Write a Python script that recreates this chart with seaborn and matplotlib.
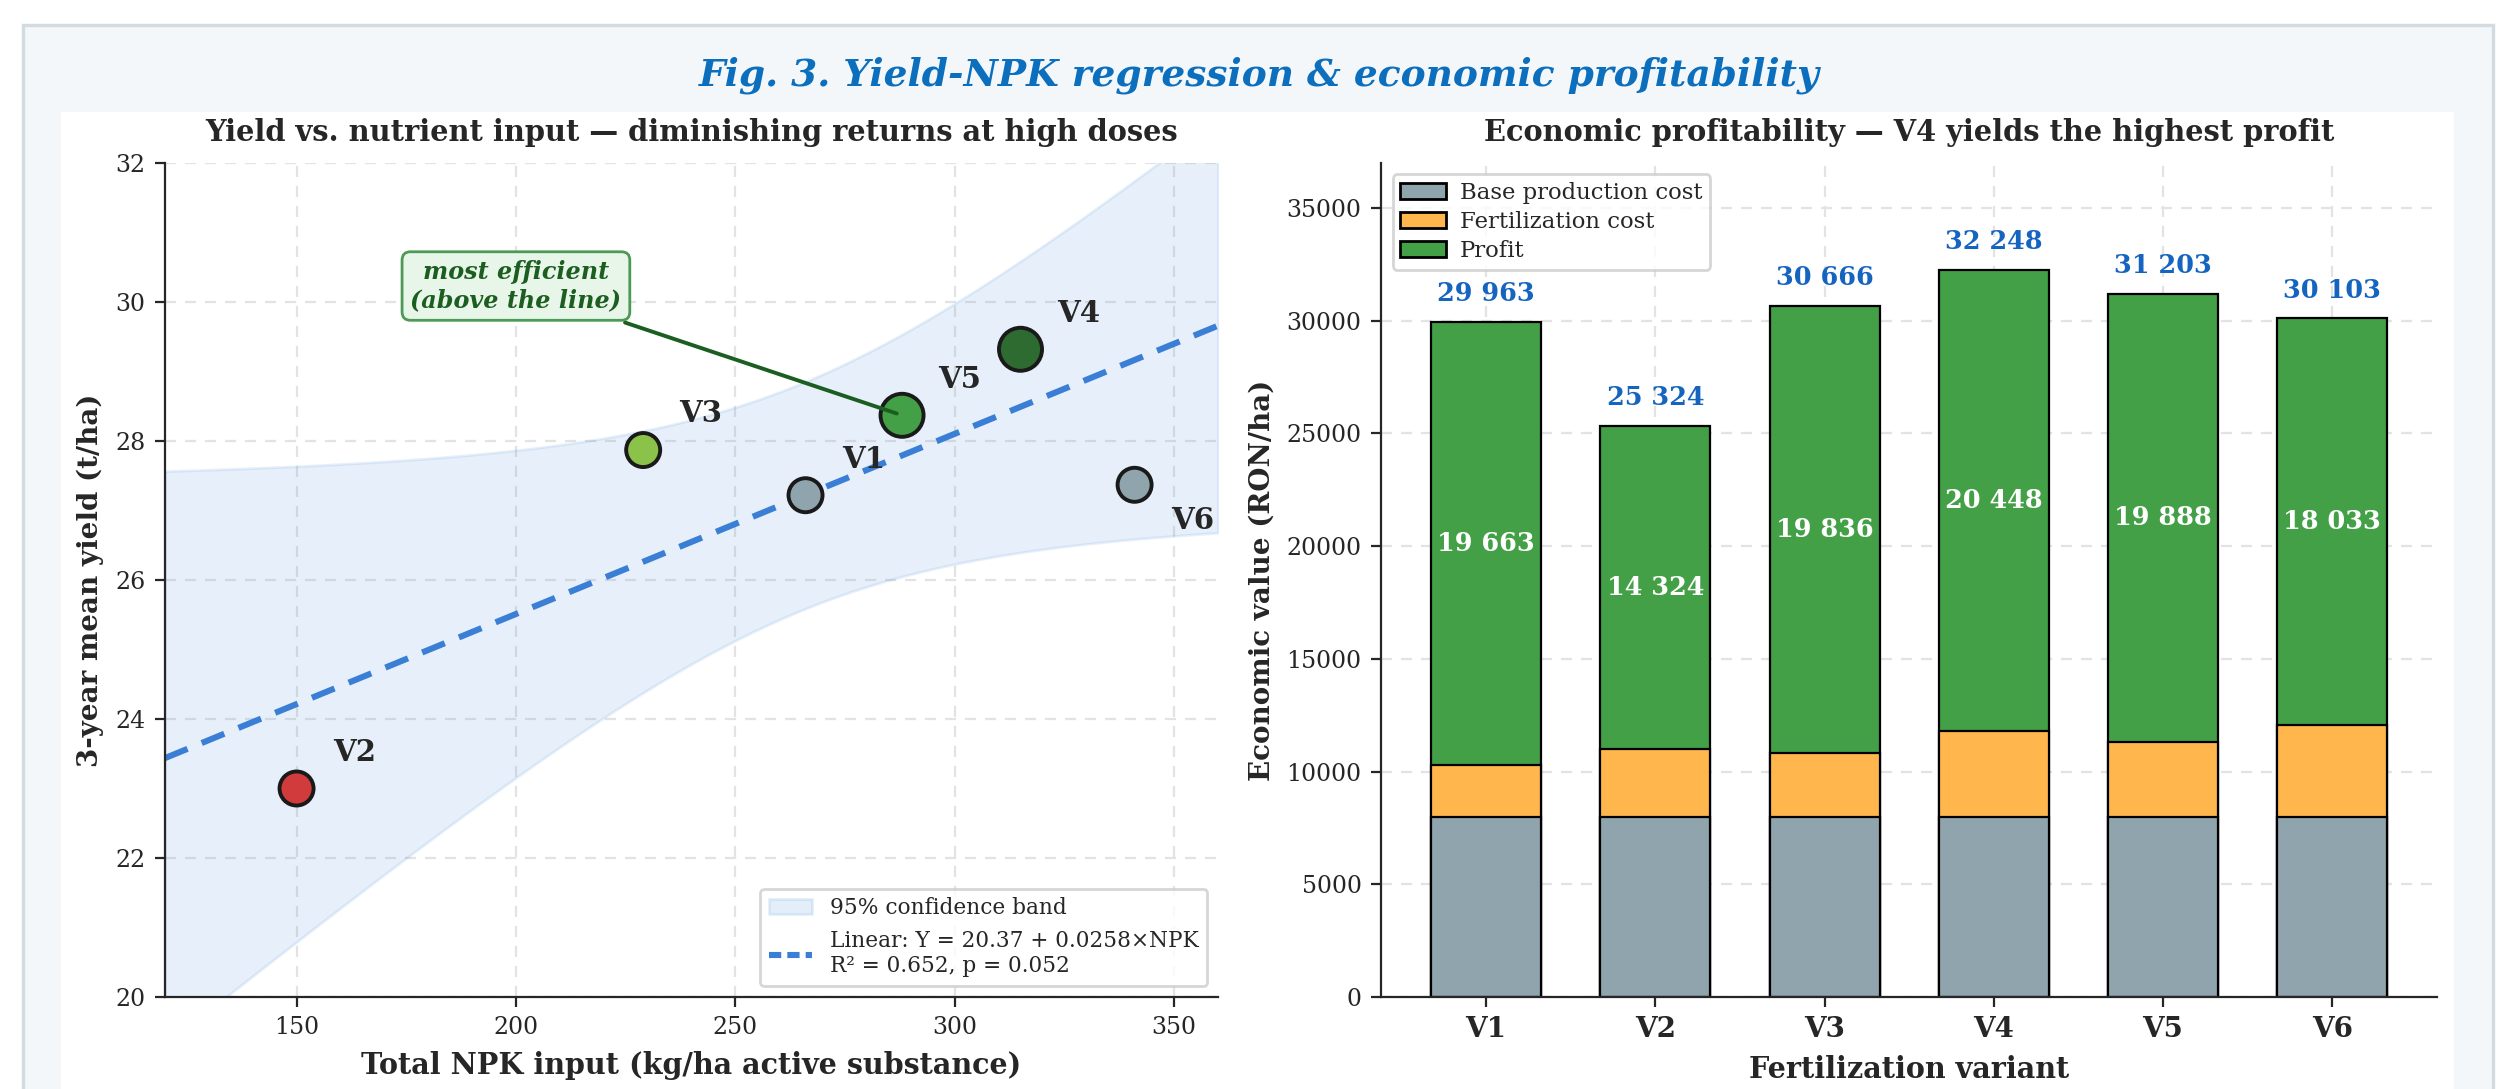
import numpy as np
import matplotlib
matplotlib.use('Agg')
from matplotlib import pyplot as plt
from matplotlib.patches import Patch, Rectangle
from matplotlib.lines import Line2D
import seaborn as sns

sns.set_style('ticks')
plt.rcParams['font.family'] = ['DejaVu Serif']

# --- data ---
variants = ['V1', 'V2', 'V3', 'V4', 'V5', 'V6']
npk = [266, 150, 229, 315, 288, 341]
yield_mean = [27.22, 23.00, 27.87, 29.32, 28.37, 27.37]
point_colors = ['#90a4ae', '#d13b3b', '#8bc34a', '#2e6b30', '#43a047', '#90a4ae']
point_sizes = [150, 150, 150, 240, 240, 150]

base_cost = [8000, 8000, 8000, 8000, 8000, 8000]
fert_cost = [2300, 3000, 2830, 3800, 3315, 4070]
profit = [19663, 14324, 19836, 20448, 19888, 18033]

fit_label = 'Linear: Y = 20.37 + 0.0258×NPK\nR² = 0.652, p = 0.052'

# --- figure / page background ---
fig = plt.figure(figsize=(12.59, 5.445), dpi=200, facecolor='white')
fig.patches.append(Rectangle((0.0091, -0.01), 0.981, 0.987, transform=fig.transFigure,
                             facecolor='#f3f7fa', edgecolor='#d3dbe2', lw=1.2, zorder=-3))
fig.patches.append(Rectangle((0.0242, -0.01), 0.9504, 0.9072, transform=fig.transFigure,
                             facecolor='white', edgecolor='none', zorder=-2))
fig.text(0.5, 0.931, 'Fig. 3. Yield-NPK regression & economic profitability',
         ha='center', va='center', fontsize=13.5, fontweight='bold', style='italic',
         color='#0b6fbd')

ax1 = fig.add_axes([0.0655, 0.0845, 0.4182, 0.7658])
ax2 = fig.add_axes([0.5485, 0.0845, 0.4194, 0.7658])

grid_kw = dict(ls=(0, (5, 4)), color='#e3e3e3', lw=0.8)

# --- left: regression ---
x = np.array(npk, dtype=float)
y = np.array(yield_mean)
slope, intercept = np.polyfit(x, y, 1)
xs = np.linspace(120, 360, 200)
yfit = intercept + slope * xs
resid = y - (intercept + slope * x)
s = np.sqrt((resid ** 2).sum() / (len(x) - 2))
sxx = ((x - x.mean()) ** 2).sum()
half = 2.776 * s * np.sqrt(1 / len(x) + (xs - x.mean()) ** 2 / sxx)

ax1.fill_between(xs, yfit - half, yfit + half, color='#4a90d9', alpha=0.13,
                 edgecolor='#4a90d9', lw=1.0, zorder=1)
ax1.plot(xs, yfit, ls='--', color='#3a7fd5', lw=2.2, dashes=(4, 2.5), zorder=2)

sns.scatterplot(x=npk, y=yield_mean, hue=variants, palette=point_colors,
                size=variants, sizes=dict(zip(variants, point_sizes)),
                edgecolor='#1a1a1a', linewidth=1.4, legend=False, ax=ax1, zorder=4)

for v, xi, yi in zip(variants, npk, yield_mean):
    dy = -13 if v == 'V6' else 13
    ax1.annotate(v, (xi, yi), xytext=(13, dy), textcoords='offset points',
                 ha='left', va='center', fontsize=10.5, fontweight='bold')

ax1.annotate('most efficient\n(above the line)', xy=(288, 28.37), xytext=(200, 30.23),
             ha='center', va='center', fontsize=8.6, fontweight='bold', style='italic',
             color='#1b5e20',
             bbox=dict(boxstyle='round,pad=0.35', fc='#e8f5e9', ec='#4c9a55', lw=1.0),
             arrowprops=dict(arrowstyle='-', color='#1b5e20', lw=1.4), zorder=5)

ax1.set_xlim(120, 360)
ax1.set_ylim(20, 32)
ax1.set_xticks([150, 200, 250, 300, 350])
ax1.set_yticks([20, 22, 24, 26, 28, 30, 32])
ax1.grid(True, **grid_kw)
ax1.set_axisbelow(True)
ax1.set_title('Yield vs. nutrient input — diminishing returns at high doses',
              fontsize=10.4, fontweight='bold', pad=8)
ax1.set_xlabel('Total NPK input (kg/ha active substance)', fontsize=10.3, fontweight='bold')
ax1.set_ylabel('3-year mean yield (t/ha)', fontsize=10, fontweight='bold')
ax1.tick_params(labelsize=8.5)
sns.despine(ax=ax1)
handles = [Patch(facecolor='#4a90d9', alpha=0.15, edgecolor='#4a90d9'),
           Line2D([0], [0], ls='--', color='#3a7fd5', lw=2.2, dashes=(2, 1))]
ax1.legend(handles, ['95% confidence band', fit_label], loc='lower right',
           fontsize=7.8, frameon=True, edgecolor='#cccccc', fancybox=True)

# --- right: stacked bars ---
fert_top = [b + f for b, f in zip(base_cost, fert_cost)]
totals = [t + p for t, p in zip(fert_top, profit)]
bar_kw = dict(width=0.65, edgecolor='black', linewidth=0.8, ax=ax2)
sns.barplot(x=variants, y=totals, color='#43a047', saturation=1, **bar_kw)
sns.barplot(x=variants, y=fert_top, color='#ffb74d', saturation=1, **bar_kw)
sns.barplot(x=variants, y=base_cost, color='#90a4ae', saturation=1, **bar_kw)

for i, (tot, ft, p) in enumerate(zip(totals, fert_top, profit)):
    ax2.text(i, tot + 700, f'{tot:,}'.replace(',', ' '), ha='center', va='bottom',
             fontsize=9.2, fontweight='bold', color='#1565c0')
    ax2.text(i, ft + p / 2, f'{p:,}'.replace(',', ' '), ha='center', va='center',
             fontsize=9.2, fontweight='bold', color='white')

ax2.set_xlim(-0.62, 5.62)
ax2.set_ylim(0, 37000)
ax2.set_yticks(range(0, 35001, 5000))
ax2.grid(True, **grid_kw)
ax2.set_axisbelow(True)
ax2.set_title('Economic profitability — V4 yields the highest profit',
              fontsize=10.4, fontweight='bold', pad=8)
ax2.set_xlabel('Fertilization variant', fontsize=10.3, fontweight='bold')
ax2.set_ylabel('Economic value (RON/ha)', fontsize=10, fontweight='bold')
ax2.tick_params(axis='y', labelsize=8.5)
ax2.tick_params(axis='x', labelsize=10)
for lab in ax2.get_xticklabels():
    lab.set_fontweight('bold')
sns.despine(ax=ax2)
leg_handles = [Patch(facecolor='#90a4ae', edgecolor='black'),
               Patch(facecolor='#ffb74d', edgecolor='black'),
               Patch(facecolor='#43a047', edgecolor='black')]
ax2.legend(leg_handles, ['Base production cost', 'Fertilization cost', 'Profit'],
           loc='upper left', fontsize=8.2, frameon=True, edgecolor='#cccccc',
           labelspacing=0.3, borderpad=0.35, handletextpad=0.6)

fig.savefig('out.png', dpi=200, facecolor='white')
